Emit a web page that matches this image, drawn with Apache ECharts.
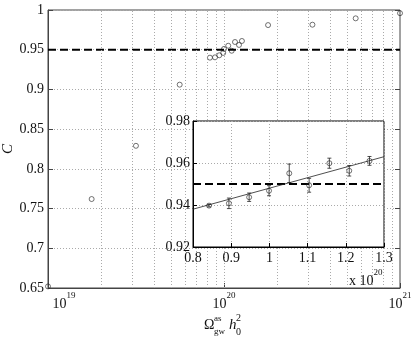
<!DOCTYPE html>
<html>
<head>
<meta charset="utf-8">
<script src="https://cdn.jsdelivr.net/npm/echarts@6/dist/echarts.min.js"></script>
<style>html,body{margin:0;padding:0;background:#fff}#c{width:415px;height:340px}</style>
</head>
<body>
<div id="c"></div>
<script>
// Main plot data (x = Omega_gw^as h0^2, C = coverage)
const mainX = [1e19, 1.77e19, 3.16e19, 5.6e19, 8.32e19, 8.89e19, 9.4e19, 9.9e19, 1.0e20, 1.057e20, 1.106e20, 1.155e20, 1.217e20, 1.264e20, 1.78e20, 3.18e20, 5.6e20, 1e21];
const mainC = [0.652, 0.762, 0.829, 0.906, 0.940, 0.9404, 0.943, 0.946, 0.951, 0.955, 0.9487, 0.9597, 0.956, 0.961, 0.981, 0.9815, 0.9895, 0.996];
// Inset data (x in units of 1e20)
const insetX = [0.842, 0.894, 0.947, 0.999, 1.052, 1.104, 1.157, 1.209, 1.262];
const insetC = [0.9397, 0.9408, 0.9437, 0.9468, 0.9551, 0.9494, 0.9599, 0.9563, 0.961];
const insetErr = [0.0006, 0.0025, 0.002, 0.0024, 0.0044, 0.0033, 0.0024, 0.0025, 0.0021];
// Linear fit in inset
const fitX = [0.8, 1.3];
const fitC = [0.938, 0.963];
// Reference level
const target = 0.95;
// Log-axis grid positions
const logGrid = [2e19,3e19,4e19,5e19,6e19,7e19,8e19,9e19,1e20,2e20,3e20,4e20,5e20,6e20,7e20,8e20,9e20];

const serif = 'Liberation Serif';
const chart = echarts.init(document.getElementById('c'), null, {renderer: 'canvas'});
const dotted = {type: [1, 2], color: '#aaa', width: 1};
const mark = {color: 'rgba(255,255,255,0)', borderColor: '#222', borderWidth: 0.8};

chart.setOption({
  animation: false,
  backgroundColor: '#fff',
  textStyle: {fontFamily: serif},
  grid: [
    {left: 48, right: 15, top: 10, bottom: 52, outerBoundsMode: 'none', containLabel: false, show: true, borderColor: '#444', borderWidth: 1, backgroundColor: '#fff'},
    {left: 193, right: 31, top: 121, height: 126, outerBoundsMode: 'none', containLabel: false, show: true, borderColor: '#000', borderWidth: 1, backgroundColor: '#fff', z: 10}
  ],
  xAxis: [
    {
      type: 'log', logBase: 10, min: 1e19, max: 1e21, gridIndex: 0, splitNumber: 2,
      axisLine: {lineStyle: {color: '#444'}},
      axisTick: {inside: true, length: 5, lineStyle: {color: '#444'}},
      splitLine: {show: false},
      axisLabel: {
        margin: 3,
        formatter: function (v) {
          const e = Math.round(Math.log10(v));
          return (e === 19 ? '{sp|}' : '') + '{b|10}{s|' + e + '}';
        },
        rich: {
          sp: {width: 32},
          b: {fontFamily: serif, fontSize: 14, color: '#111', lineHeight: 20, verticalAlign: 'bottom'},
          s: {fontFamily: serif, fontSize: 9, color: '#111', lineHeight: 11, verticalAlign: 'top'}
        }
      }
    },
    {
      type: 'value', min: 0.8, max: 1.3, interval: 0.1, gridIndex: 1, z: 11,
      axisLine: {onZero: false, lineStyle: {color: '#000'}},
      axisTick: {inside: true, length: 4, lineStyle: {color: '#000'}},
      splitLine: {show: true, lineStyle: dotted},
      axisLabel: {margin: 4, fontFamily: serif, fontSize: 14, color: '#111', formatter: v => String(+v.toFixed(1))}
    }
  ],
  yAxis: [
    {
      type: 'value', min: 0.65, max: 1, interval: 0.05, gridIndex: 0,
      name: 'C', nameLocation: 'middle', nameGap: 32, nameRotate: 90, nameMoveOverlap: false,
      nameTextStyle: {fontFamily: serif, fontSize: 15, fontStyle: 'italic', color: '#111'},
      axisLine: {lineStyle: {color: '#444'}},
      axisTick: {inside: true, length: 5, lineStyle: {color: '#444'}},
      splitLine: {show: true, lineStyle: dotted},
      axisLabel: {margin: 4, fontFamily: serif, fontSize: 14, color: '#111', formatter: v => String(+v.toFixed(2))}
    },
    {
      type: 'value', min: 0.65, max: 1, interval: 0.05, gridIndex: 0, position: 'right',
      axisLine: {show: false},
      axisTick: {inside: true, length: 5, lineStyle: {color: '#444'}},
      splitLine: {show: false},
      axisLabel: {show: false}
    },
    {
      type: 'value', min: 0.92, max: 0.98, interval: 0.02, gridIndex: 1, z: 11,
      axisLine: {onZero: false, lineStyle: {color: '#000'}},
      axisTick: {inside: true, length: 4, lineStyle: {color: '#000'}},
      splitLine: {show: true, lineStyle: dotted},
      axisLabel: {margin: 3, fontFamily: serif, fontSize: 14, color: '#111', formatter: v => v.toFixed(2)}
    }
  ],
  series: [
    {
      type: 'scatter', xAxisIndex: 0, yAxisIndex: 0, z: 3,
      data: mainX.map((x, i) => [x, mainC[i]]),
      symbol: 'circle', symbolSize: 5,
      itemStyle: mark,
      markLine: {
        silent: true, symbol: 'none', label: {show: false},
        lineStyle: dotted,
        data: logGrid.map(v => ({xAxis: v}))
      }
    },
    {
      type: 'line', xAxisIndex: 0, yAxisIndex: 0, z: 4,
      data: [[1e19, target], [1e21, target]],
      symbol: 'none', lineStyle: {color: '#000', width: 2, type: [8, 4]}
    },
    {
      type: 'line', xAxisIndex: 1, yAxisIndex: 2, z: 12,
      data: [[0.8, target], [1.3, target]],
      symbol: 'none', lineStyle: {color: '#000', width: 2, type: [8, 4]}
    },
    {
      type: 'line', xAxisIndex: 1, yAxisIndex: 2, z: 12,
      data: fitX.map((x, i) => [x, fitC[i]]),
      symbol: 'none', lineStyle: {color: '#222', width: 0.8}
    },
    {
      type: 'custom', xAxisIndex: 1, yAxisIndex: 2, z: 13,
      data: insetX.map((x, i) => [x, insetC[i], insetErr[i]]),
      renderItem: function (params, api) {
        const x = api.value(0), y = api.value(1), e = api.value(2);
        const t = api.coord([x, y + e]), b = api.coord([x, y - e]);
        const w = 2;
        const st = {stroke: '#222', lineWidth: 0.8};
        return {type: 'group', children: [
          {type: 'line', shape: {x1: t[0], y1: t[1], x2: b[0], y2: b[1]}, style: st},
          {type: 'line', shape: {x1: t[0] - w, y1: t[1], x2: t[0] + w, y2: t[1]}, style: st},
          {type: 'line', shape: {x1: b[0] - w, y1: b[1], x2: b[0] + w, y2: b[1]}, style: st}
        ]};
      }
    },
    {
      type: 'scatter', xAxisIndex: 1, yAxisIndex: 2, z: 14,
      data: insetX.map((x, i) => [x, insetC[i]]),
      symbol: 'circle', symbolSize: 5,
      itemStyle: mark
    }
  ],
  graphic: [
    {
      type: 'text', left: 349, top: 268, z: 20,
      style: {
        text: '{n|x 10}{s|20}',
        rich: {
          n: {fontFamily: serif, fontSize: 14, fill: '#111', lineHeight: 20, verticalAlign: 'bottom'},
          s: {fontFamily: serif, fontSize: 9, fill: '#111', lineHeight: 11, verticalAlign: 'top'}
        }
      }
    },
    {type: 'text', left: 204, top: 318, style: {text: 'Ω', fontFamily: serif, fontSize: 14, fill: '#111'}},
    {type: 'text', left: 214, top: 314, style: {text: 'as', fontFamily: serif, fontSize: 9, fill: '#111'}},
    {type: 'text', left: 214, top: 327, style: {text: 'gw', fontFamily: serif, fontSize: 9, fill: '#111'}},
    {type: 'text', left: 229, top: 318, style: {text: 'h', fontFamily: serif, fontSize: 15, fontStyle: 'italic', fill: '#111'}},
    {type: 'text', left: 236, top: 313, style: {text: '2', fontFamily: serif, fontSize: 10, fill: '#111'}},
    {type: 'text', left: 236, top: 327, style: {text: '0', fontFamily: serif, fontSize: 10, fill: '#111'}}
  ]
});
</script>
</body>
</html>
